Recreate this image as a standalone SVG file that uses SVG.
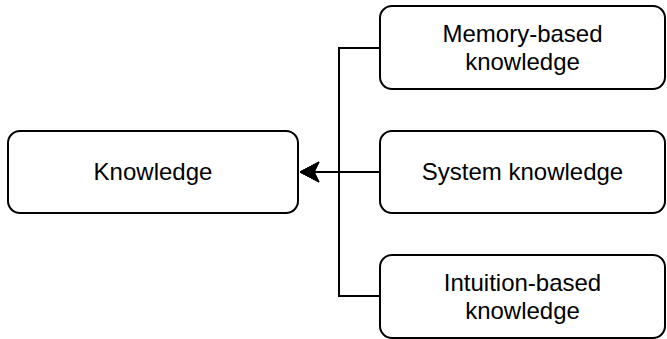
<svg xmlns="http://www.w3.org/2000/svg" width="667" height="339" viewBox="0 0 667 339">
<style>
.box{fill:#fff;stroke:#000;stroke-width:2}
.t{font-family:"Liberation Sans",Arial,sans-serif;font-size:24px;fill:#000;text-anchor:middle}
.c{fill:none;stroke:#000;stroke-width:2}
</style>
<defs>
<marker id="ah" markerUnits="userSpaceOnUse" markerWidth="22" markerHeight="22" refX="20" refY="11" orient="auto" viewBox="0 0 22 22">
<path d="M20,11 L1,1 L6,11 L1,21 Z" fill="#000" stroke="#000" stroke-width="1"/>
</marker>
</defs>
<g id="connectors">
<path class="c" d="M380,48 H339 V172 H300" marker-end="url(#ah)"/>
<path class="c" d="M380,172 H300" marker-end="url(#ah)"/>
<path class="c" d="M380,296 H339 V172 H300" marker-end="url(#ah)"/>
</g>
<g id="knowledge">
<rect class="box" x="8" y="131" width="290" height="82" rx="12"/>
<text class="t" x="153" y="180">Knowledge</text>
</g>
<g id="memory">
<rect class="box" x="380" y="6" width="285" height="83" rx="12"/>
<text class="t" x="522.5" y="42">Memory-based</text>
<text class="t" x="522.5" y="70">knowledge</text>
</g>
<g id="system">
<rect class="box" x="380" y="131" width="285" height="82" rx="12"/>
<text class="t" x="522.5" y="180">System knowledge</text>
</g>
<g id="intuition">
<rect class="box" x="380" y="255" width="285" height="83" rx="12"/>
<text class="t" x="522.5" y="291">Intuition-based</text>
<text class="t" x="522.5" y="319">knowledge</text>
</g>
</svg>
